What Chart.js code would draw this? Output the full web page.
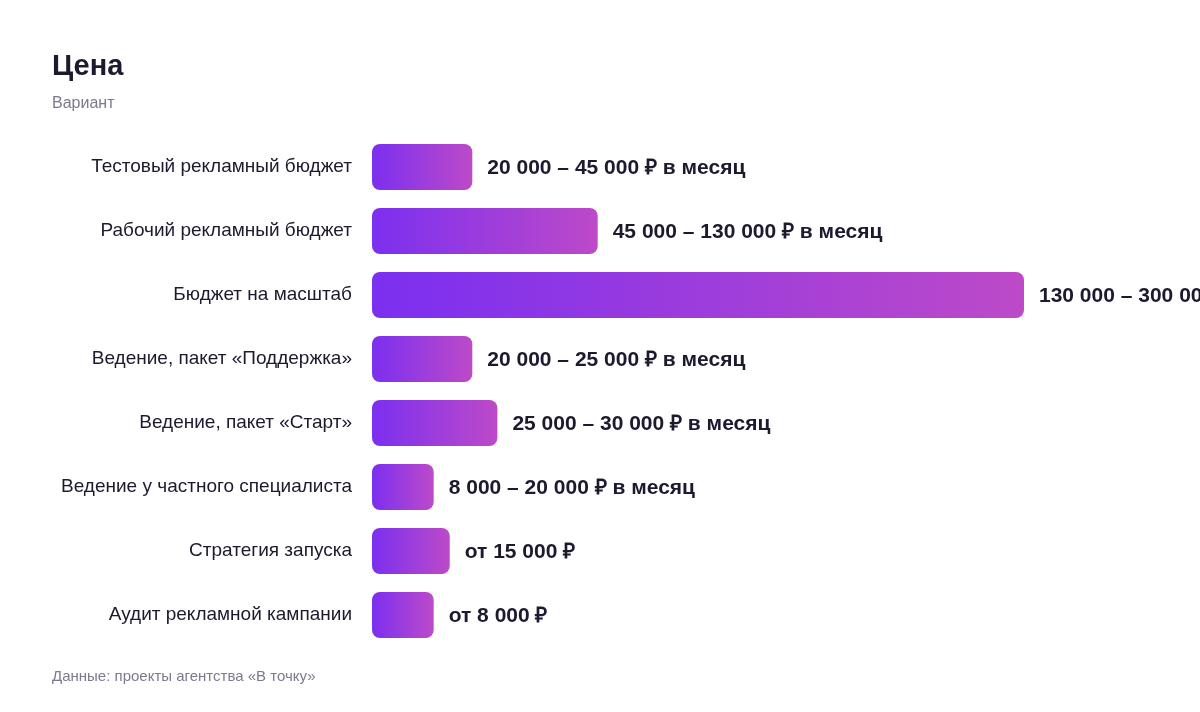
<!DOCTYPE html>
<html lang="ru">
<head>
<meta charset="utf-8">
<script src="https://cdn.jsdelivr.net/npm/chart.js@4.4.1/dist/chart.umd.min.js"></script>
<style>
  html, body { margin: 0; padding: 0; background: #fff; }
  body { width: 1200px; height: 712px; position: relative; overflow: hidden; font-family: "Liberation Sans", Arial, sans-serif; }
  #title { position: absolute; left: 52px; top: 49px; font-size: 29px; font-weight: bold; color: #1b1a2e; }
  #subtitle { position: absolute; left: 52px; top: 94px; font-size: 16px; color: #7b7a8e; }
  #footer { position: absolute; left: 52px; top: 667px; font-size: 15px; color: #7b7a8e; }
  #wrap { position: absolute; left: 0; top: 0; width: 1200px; height: 712px; }
</style>
</head>
<body>
<div id="wrap"><canvas id="priceChart"></canvas></div>
<div id="title">Цена</div>
<div id="subtitle">Вариант</div>
<div id="footer">Данные: проекты агентства «В точку»</div>
<script>
const categories = [
  "Тестовый рекламный бюджет",
  "Рабочий рекламный бюджет",
  "Бюджет на масштаб",
  "Ведение, пакет «Поддержка»",
  "Ведение, пакет «Старт»",
  "Ведение у частного специалиста",
  "Стратегия запуска",
  "Аудит рекламной кампании"
];
// длина полосы (₽), оценка по картинке
const values = [20000, 45000, 130000, 20000, 25000, 12300, 15500, 12300];
const priceLabels = [
  "20 000 – 45 000 ₽ в месяц",
  "45 000 – 130 000 ₽ в месяц",
  "130 000 – 300 000 ₽ в месяц",
  "20 000 – 25 000 ₽ в месяц",
  "25 000 – 30 000 ₽ в месяц",
  "8 000 – 20 000 ₽ в месяц",
  "от 15 000 ₽",
  "от 8 000 ₽"
];

// градиент слева направо внутри каждой полосы
function barGradient(context) {
  const chart = context.chart;
  const { ctx, scales } = chart;
  if (!chart.chartArea || !scales.x) return "#7b2ff0";
  const x0 = scales.x.getPixelForValue(0);
  const x1 = scales.x.getPixelForValue(values[context.dataIndex]);
  const g = ctx.createLinearGradient(x0, 0, x1, 0);
  g.addColorStop(0, "#7b2ff0");
  g.addColorStop(1, "#bd4ac8");
  return g;
}

// подписи цен справа от полос
const valueLabels = {
  id: "valueLabels",
  afterDatasetsDraw(chart) {
    const ctx = chart.ctx;
    const meta = chart.getDatasetMeta(0);
    ctx.save();
    ctx.font = "bold 21px 'Liberation Sans', Arial, sans-serif";
    ctx.fillStyle = "#1b1a2e";
    ctx.textBaseline = "middle";
    ctx.textAlign = "left";
    meta.data.forEach((bar, i) => {
      ctx.fillText(priceLabels[i], bar.x + 15, bar.y + 1);
    });
    ctx.restore();
  }
};

new Chart(document.getElementById("priceChart"), {
  type: "bar",
  data: {
    labels: categories,
    datasets: [{
      data: values,
      backgroundColor: barGradient,
      borderRadius: 8,
      borderSkipped: false,
      barPercentage: 0.72,
      categoryPercentage: 1
    }]
  },
  options: {
    indexAxis: "y",
    responsive: true,
    maintainAspectRatio: false,
    animation: false,
    layout: { padding: { top: 135, bottom: 65, right: 176, left: 0 } },
    plugins: { legend: { display: false }, tooltip: { enabled: false } },
    scales: {
      x: { display: false, min: 0, max: 130000 },
      y: {
        grid: { display: false, drawTicks: false },
        border: { display: false },
        ticks: {
          padding: 20,
          color: "#1b1a2e",
          font: { family: "'Liberation Sans', Arial, sans-serif", size: 19 }
        },
        afterFit(axis) { axis.width = 372; }
      }
    }
  },
  plugins: [valueLabels]
});
</script>
</body>
</html>
